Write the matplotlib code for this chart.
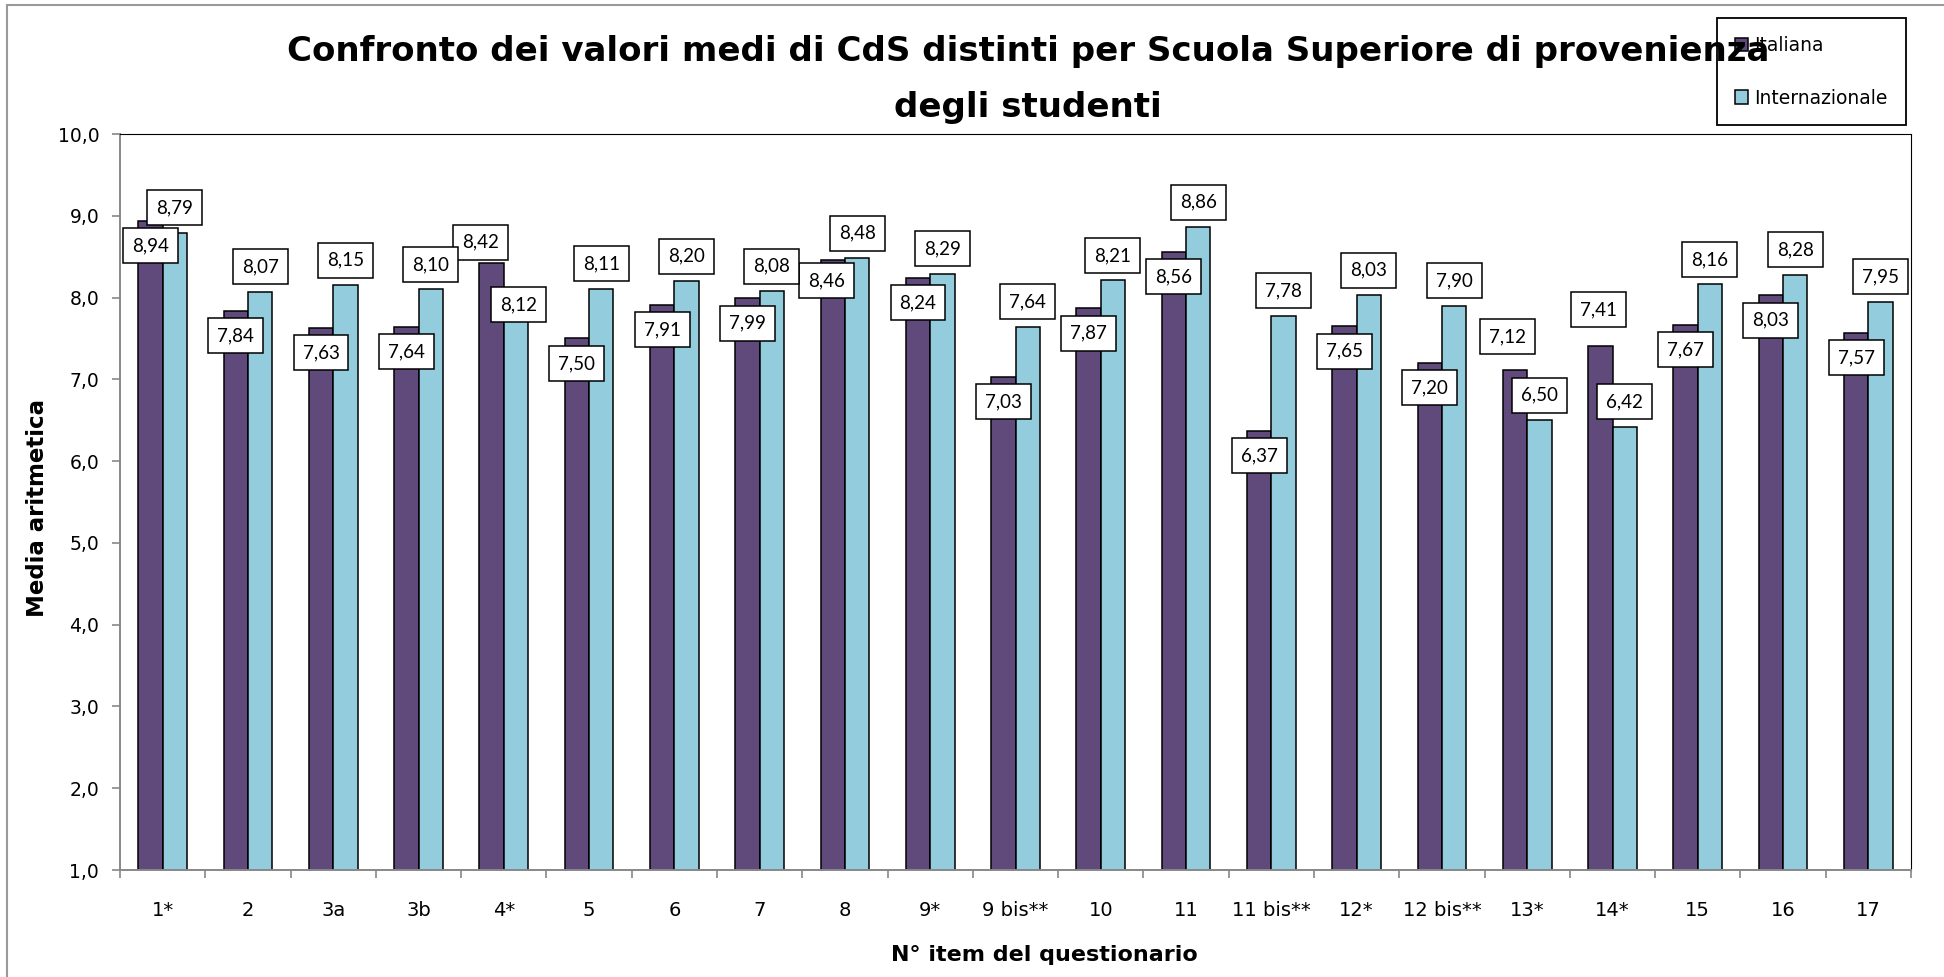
import matplotlib
matplotlib.use('Agg')
import matplotlib.pyplot as plt
import numpy as np
from matplotlib.patches import Rectangle
from matplotlib.ticker import FuncFormatter

items = ['1*', '2', '3a', '3b', '4*', '5', '6', '7', '8', '9*', '9 bis**', '10', '11',
         '11 bis**', '12*', '12 bis**', '13*', '14*', '15', '16', '17']
italiana = [8.94, 7.84, 7.63, 7.64, 8.42, 7.50, 7.91, 7.99, 8.46, 8.24, 7.03, 7.87, 8.56,
            6.37, 7.65, 7.20, 7.12, 7.41, 7.67, 8.03, 7.57]
internazionale = [8.79, 8.07, 8.15, 8.10, 8.12, 8.11, 8.20, 8.08, 8.48, 8.29, 7.64, 8.21, 8.86,
                  7.78, 8.03, 7.90, 6.50, 6.42, 8.16, 8.28, 7.95]

# label box offsets (pixels) where the original moved them by hand
it_offsets = {4: (-11, 21), 8: (-6, -21), 16: (-8, 33), 17: (-2, 36)}
in_offsets = {4: (3, -17)}

W, H = 1944, 977
fig = plt.figure(figsize=(W / 100, H / 100), dpi=100)
ax = fig.add_axes([120 / W, 1 - 870 / H, (1911 - 120) / W, (870 - 134) / H])

x = np.arange(len(items))
bw = 0.286
c_it = '#604A7B'
c_in = '#93CDDD'
ax.bar(x - bw / 2, italiana, bw, color=c_it, edgecolor='black', linewidth=1.1,
       label='Italiana', zorder=2)
ax.bar(x + bw / 2, internazionale, bw, color=c_in, edgecolor='black', linewidth=1.1,
       label='Internazionale', zorder=2)

box = dict(boxstyle='square,pad=0.48', fc='white', ec='black', lw=1.1)
for i, v in enumerate(italiana):
    dx, dy = it_offsets.get(i, (0, -25))
    ax.annotate(f'{v:.2f}'.replace('.', ','), (x[i] - bw / 2, v), xytext=(dx, dy),
                textcoords='offset pixels', ha='center', va='center', fontsize=13.5,
                family='Lato', bbox=box, zorder=4)
for i, v in enumerate(internazionale):
    dx, dy = in_offsets.get(i, (0, 25))
    ax.annotate(f'{v:.2f}'.replace('.', ','), (x[i] + bw / 2, v), xytext=(dx, dy),
                textcoords='offset pixels', ha='center', va='center', fontsize=13.5,
                family='Lato', bbox=box, zorder=4)

ax.set_xlim(-0.5, len(items) - 0.5)
ax.set_ylim(1, 10)
ax.set_yticks(np.arange(1, 11))
ax.yaxis.set_major_formatter(FuncFormatter(lambda v, p: f'{v:.1f}'.replace('.', ',')))
for lab in ax.get_yticklabels():
    lab.set_family('DejaVu Sans')
ax.tick_params(axis='y', length=6, color='#888888', width=1.2, labelsize=13.5, pad=9)

ax.set_xticks(x)
ax.set_xticklabels(items, fontsize=14)
ax.set_xticks(np.arange(-0.5, len(items)), minor=True)
ax.tick_params(axis='x', which='major', length=0, pad=22)
ax.tick_params(axis='x', which='minor', length=6, color='#888888', width=1.2)

ax.spines['left'].set_color('#888888')
ax.spines['bottom'].set_color('#888888')
ax.spines['left'].set_linewidth(1.4)
ax.spines['bottom'].set_linewidth(1.4)
ax.spines['top'].set_color('black')
ax.spines['right'].set_color('black')

leg = ax.legend(loc='upper left', bbox_to_anchor=(1717 / W, 1 - 18 / H),
                bbox_transform=fig.transFigure, fancybox=False, framealpha=1,
                edgecolor='black', fontsize=13.5, labelspacing=1.8, handlelength=0.7,
                handleheight=0.7, handletextpad=0.35, borderpad=0.95, borderaxespad=0)
leg.get_frame().set_linewidth(1.3)

fig.text(1028 / W, 1 - 52 / H, 'Confronto dei valori medi di CdS distinti per Scuola Superiore di provenienza',
         ha='center', va='center', fontsize=24.5, fontweight='bold')
fig.text(1028 / W, 1 - 107 / H, 'degli studenti', ha='center', va='center',
         fontsize=24.5, fontweight='bold')
fig.text(38 / W, 1 - 508 / H, 'Media aritmetica', rotation=90, ha='center', va='center',
         fontsize=16.5, fontweight='bold')
fig.text(1044 / W, 1 - 955 / H, 'N° item del questionario', ha='center', va='center',
         fontsize=16, fontweight='bold')

fig.patches.append(Rectangle((7 / W, -0.1), 1.2, 1 - 5 / H + 0.1, transform=fig.transFigure,
                             fill=False, ec='#999999', lw=1.5))

fig.savefig('out.png', dpi=100)
